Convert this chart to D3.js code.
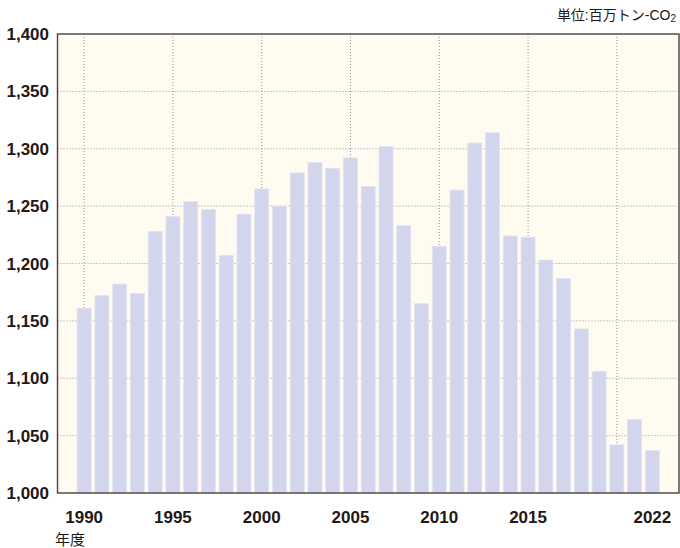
<!DOCTYPE html>
<html><head><meta charset="utf-8">
<script src="https://cdn.jsdelivr.net/npm/d3@7"></script>
<style>body{margin:0;background:#fff;}</style>
</head><body>
<svg id="chart" width="680" height="548"></svg>
<script>
const years = d3.range(1990, 2023);
const emissions = [1161, 1172, 1182, 1174, 1228, 1241, 1254, 1247, 1207, 1243,
    1265, 1250, 1279, 1288, 1283, 1292, 1267, 1302, 1233, 1165,
    1215, 1264, 1305, 1314, 1224, 1223, 1203, 1187, 1143, 1106,
    1042, 1064, 1037];
const yTicks = [1000, 1050, 1100, 1150, 1200, 1250, 1300, 1350, 1400];
const xTicks = [1990, 1995, 2000, 2005, 2010, 2015, 2022];
const xGrid = [1990, 1995, 2000, 2005, 2010, 2015, 2020];

const plotLeft = 57.5, plotRight = 679, plotTop = 34, plotBottom = 493;
const font = "'Liberation Sans','Noto Sans CJK JP',sans-serif";

const svg = d3.select('#chart');
const x = d3.scaleLinear().domain([1988.5, 2023.5]).range([plotLeft, plotRight]);
const y = d3.scaleLinear().domain([1000, 1400]).range([plotBottom, plotTop]);

svg.append('rect')
    .attr('x', plotLeft).attr('y', plotTop)
    .attr('width', plotRight - plotLeft).attr('height', plotBottom - plotTop)
    .attr('fill', '#fffbf1');

// grid
svg.append('g').selectAll('line').data(yTicks.slice(1, -1)).join('line')
    .attr('x1', plotLeft).attr('x2', plotRight)
    .attr('y1', d => y(d)).attr('y2', d => y(d))
    .attr('stroke', '#999').attr('stroke-dasharray', '1,2');
svg.append('g').selectAll('line').data(xGrid).join('line')
    .attr('x1', d => x(d)).attr('x2', d => x(d))
    .attr('y1', plotTop).attr('y2', plotBottom)
    .attr('stroke', '#999').attr('stroke-dasharray', '1,2');

// bars
svg.append('g').selectAll('rect').data(emissions).join('rect')
    .attr('x', (d, i) => x(years[i]) - 7)
    .attr('y', d => y(d))
    .attr('width', 14)
    .attr('height', d => y(1000) - y(d))
    .attr('fill', '#d3d5ec')
    .attr('stroke', '#e2e4f2').attr('stroke-width', 0.8);

// frame
svg.append('rect')
    .attr('x', plotLeft).attr('y', plotTop)
    .attr('width', plotRight - plotLeft).attr('height', plotBottom - plotTop)
    .attr('fill', 'none').attr('stroke', '#4a4040').attr('stroke-width', 1.4);

// y labels
svg.append('g').selectAll('text').data(yTicks).join('text')
    .attr('x', 49).attr('y', d => y(d) + 6)
    .attr('text-anchor', 'end')
    .style('font-family', font).style('font-size', '17px').style('font-weight', 'bold')
    .attr('fill', '#231815')
    .text(d => d3.format(',')(d));

// x labels
svg.append('g').selectAll('text').data(xTicks).join('text')
    .attr('x', d => x(d)).attr('y', 523)
    .attr('text-anchor', 'middle')
    .style('font-family', font).style('font-size', '17px').style('font-weight', 'bold')
    .attr('fill', '#231815')
    .text(d => d);

svg.append('text')
    .attr('x', 55).attr('y', 545)
    .style('font-family', font).style('font-size', '15px')
    .attr('fill', '#231815')
    .text('年度');

const unit = svg.append('text')
    .attr('x', 676).attr('y', 20)
    .attr('text-anchor', 'end')
    .style('font-family', font).style('font-size', '14px')
    .attr('fill', '#231815');
unit.append('tspan').text('単位:百万トン-CO');
unit.append('tspan').attr('font-size', '10px').attr('dy', 2).text('2');
</script>
</body></html>
